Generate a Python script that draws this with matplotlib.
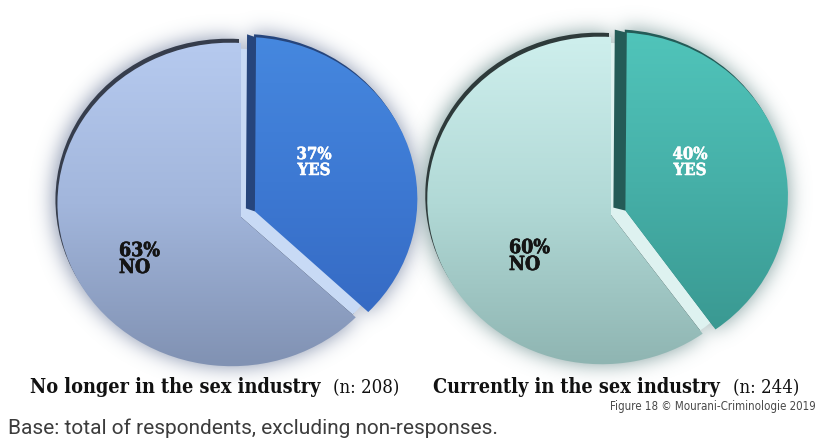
import numpy as np
import matplotlib
matplotlib.use("Agg")
import matplotlib.pyplot as plt
from matplotlib import transforms as mtransforms
from matplotlib import font_manager as fm
from matplotlib import patheffects as pe
from matplotlib.patches import Wedge, PathPatch, Polygon

# ---------------------------------------------------------------- data
groups = ["No longer in the sex industry", "Currently in the sex industry"]
sample_sizes = [208, 244]
yes_pct = [37, 40]
no_pct = [63, 60]
answers = ["YES", "NO"]
footnote = "Base: total of respondents, excluding non-responses."
credit = "Figure 18 \u00a9 Mourani-Criminologie 2019"

W, H = 818, 439

# ---------------------------------------------------------------- fonts
entries = fm.fontManager.ttflist
cond = [f for f in entries
        if f.name.startswith("DejaVu Serif") and
        ("ondensed" in f.name or str(f.stretch) == "condensed")]
if cond:
    SLAB = dict(family=cond[0].name, stretch="condensed")
    slab_scale = 1.0
else:
    SLAB = dict(family="DejaVu Serif")
    slab_scale = 0.9
narrow = [f.name for f in entries if f.name == "Liberation Sans Narrow"]
NARROW = dict(family=narrow[0]) if narrow else dict(family="DejaVu Sans", stretch="condensed")


# ---------------------------------------------------------------- perspective
class TiltedDisc(mtransforms.Transform):
    """Maps unit pie coordinates onto a tilted disc in pixel space (y down)."""
    input_dims = 2
    output_dims = 2
    is_separable = False
    has_inverse = False

    def __init__(self, cx, cy, sx, sy, px, py):
        super().__init__()
        self.cx, self.cy = cx, cy
        self.sx, self.sy = sx, sy
        self.px, self.py = px, py

    def transform_non_affine(self, values):
        v = np.asarray(values, dtype=float).reshape(-1, 2)
        x, y = v[:, 0], v[:, 1]
        d = 1.0 + self.px * x + self.py * y
        return np.column_stack([self.cx + self.sx * x / d,
                                self.cy - self.sy * y / d])


def hex2rgb(h):
    h = h.lstrip("#")
    return np.array([int(h[i:i + 2], 16) for i in (0, 2, 4)]) / 255.0


def gradient(stops, y0, y1):
    yy = np.arange(H) + 0.5
    t = np.clip((yy - y0) / (y1 - y0), 0, 1)
    cols = np.array([hex2rgb(c) for c in stops])
    pos = np.linspace(0, 1, len(stops))
    rgb = np.stack([np.interp(t, pos, cols[:, k]) for k in range(3)], axis=1)
    return np.repeat(rgb[:, None, :], W, axis=1)


def blur(img, sigma):
    r = int(3 * sigma)
    k = np.exp(-0.5 * (np.arange(-r, r + 1) / sigma) ** 2)
    k /= k.sum()
    img = np.apply_along_axis(lambda m: np.convolve(m, k, mode="same"), 0, img)
    img = np.apply_along_axis(lambda m: np.convolve(m, k, mode="same"), 1, img)
    return img


styles = [
    dict(center=(241, 218), sx=172.4, sy=160.5, px=0.0578, py=-0.0774,
         no_stops=["#b6caef", "#a2b6dc", "#8192b3"],
         yes_stops=["#4688df", "#3d79d3", "#3569c2"],
         rim="#363d4c", side="#26457c", side_off=(-9, -3),
         gap="#c8daf5", glow=(0.50, 0.55, 0.66),
         no_text="#141414", yes_text="white",
         yes_xy=(314, 176), no_xy=(119, 274)),
    dict(center=(611, 216), sx=172.4, sy=162.2, px=0.0578, py=-0.0887,
         no_stops=["#cdeeec", "#b1d9d6", "#8fb5b2"],
         yes_stops=["#50c4ba", "#46b0a8", "#3a9992"],
         rim="#2e3a3a", side="#245b57", side_off=(-12, -3),
         gap="#def2f0", glow=(0.48, 0.60, 0.60),
         no_text="#141414", yes_text="white",
         yes_xy=(690, 176), no_xy=(509, 271)),
]

fig = plt.figure(figsize=(W / 100, H / 100), dpi=100, facecolor="white")
ax = fig.add_axes([0, 0, 1, 1])

yy, xx = np.mgrid[0:H, 0:W] + 0.5
grid_pts = np.column_stack([xx.ravel(), yy.ravel()])

for i, st in enumerate(styles):
    persp = TiltedDisc(st["center"][0], st["center"][1], st["sx"], st["sy"],
                       st["px"], st["py"])
    tr = persp + ax.transData
    wedges, _ = ax.pie([yes_pct[i], no_pct[i]], startangle=90, counterclock=False,
                       explode=[0.088, 0], radius=1, center=(0, 0),
                       wedgeprops=dict(linewidth=0))
    yes_w, no_w = wedges
    for w in wedges:
        w.set_transform(tr)
        w.set_facecolor("none")
        w.set_edgecolor("none")

    # soft halo around the disc, a little stronger towards the upper left
    mask = np.zeros(H * W)
    for w in wedges:
        mask = np.maximum(mask, persp.transform_path(w.get_path()).contains_points(grid_pts))
    mask = mask.reshape(H, W)
    shifted = np.roll(np.roll(mask, -4, axis=0), -4, axis=1)
    halo = blur(np.maximum(mask, shifted), 10)
    rgba = np.zeros((H, W, 4))
    rgba[..., :3] = st["glow"]
    rgba[..., 3] = np.clip(0.95 * halo, 0, 1)
    ax.imshow(rgba, extent=(0, W, H, 0), origin="upper", aspect="auto",
              interpolation="bilinear", zorder=0)

    # dark back rim of the large slice
    rim = PathPatch(no_w.get_path(), facecolor=st["rim"], edgecolor="none",
                    transform=persp + mtransforms.Affine2D().translate(-2, -4) + ax.transData,
                    zorder=1.0)
    ax.add_patch(rim)

    # light inner wall seen through the gap of the pulled-out slice
    filler = Wedge((0, 0), 0.97, yes_w.theta1, yes_w.theta2,
                   facecolor=st["gap"], edgecolor="none", zorder=1.2)
    ax.add_patch(filler)
    filler.set_transform(tr)

    # side wall along the straight upright edge of the pulled-out slice
    c = np.asarray(yes_w.center, dtype=float)
    ang = np.deg2rad(yes_w.theta2)
    edge = persp.transform(np.array([c, c + yes_w.r * np.array([np.cos(ang), np.sin(ang)])]))
    off = np.asarray(st["side_off"], dtype=float)
    wall = Polygon([edge[0], edge[1], edge[1] + off, edge[0] + off], closed=True,
                   facecolor=st["side"], edgecolor="none", zorder=1.5)
    ax.add_patch(wall)
    top_rim = PathPatch(yes_w.get_path(), facecolor=st["side"], edgecolor="none",
                        transform=persp + mtransforms.Affine2D().translate(-2, -3) + ax.transData,
                        zorder=1.5)
    ax.add_patch(top_rim)

    # shaded faces
    im_no = ax.imshow(gradient(st["no_stops"], 45, 365), extent=(0, W, H, 0),
                      origin="upper", aspect="auto", interpolation="bilinear", zorder=2)
    im_no.set_clip_path(no_w)
    im_yes = ax.imshow(gradient(st["yes_stops"], 35, 330), extent=(0, W, H, 0),
                       origin="upper", aspect="auto", interpolation="bilinear", zorder=3)
    im_yes.set_clip_path(yes_w)

    # value labels (anchored on the baseline of the last line)
    ax.text(st["yes_xy"][0], st["yes_xy"][1], f"{yes_pct[i]}%\n{answers[0]}",
            ha="center", va="baseline", multialignment="center",
            fontsize=12 * slab_scale, fontweight="bold", color=st["yes_text"],
            linespacing=0.92, zorder=5,
            path_effects=[pe.withStroke(linewidth=0.35, foreground=st["yes_text"])], **SLAB)
    ax.text(st["no_xy"][0], st["no_xy"][1], f"{no_pct[i]}%\n{answers[1]}",
            ha="left", va="baseline", multialignment="left",
            fontsize=14 * slab_scale, fontweight="bold", color=st["no_text"],
            linespacing=0.92, zorder=5,
            path_effects=[pe.withStroke(linewidth=0.45, foreground=st["no_text"])], **SLAB)

# group titles with sample sizes
title_end = [320, 720]
for i, g in enumerate(groups):
    ax.text(title_end[i], 393, g, ha="right", va="baseline", fontsize=14.2 * slab_scale,
            fontweight="bold", color="#111111", zorder=5, **SLAB)
    ax.text(title_end[i] + 13, 393, f"(n: {sample_sizes[i]})",
            ha="left", va="baseline", fontsize=13.3 * slab_scale, color="#111111",
            zorder=5, **SLAB)

ax.text(816, 410, credit, ha="right", va="baseline", fontsize=8.3, color="#4a4a4a",
        zorder=5, **NARROW)
ax.text(8, 434, footnote, ha="left", va="baseline", fontsize=15, color="#3c3c3c",
        family="Roboto", fontweight="normal", zorder=5)

ax.set_xlim(0, W)
ax.set_ylim(H, 0)
ax.set_aspect("auto")
ax.axis("off")

fig.savefig("out.png", dpi=100, facecolor="white")
